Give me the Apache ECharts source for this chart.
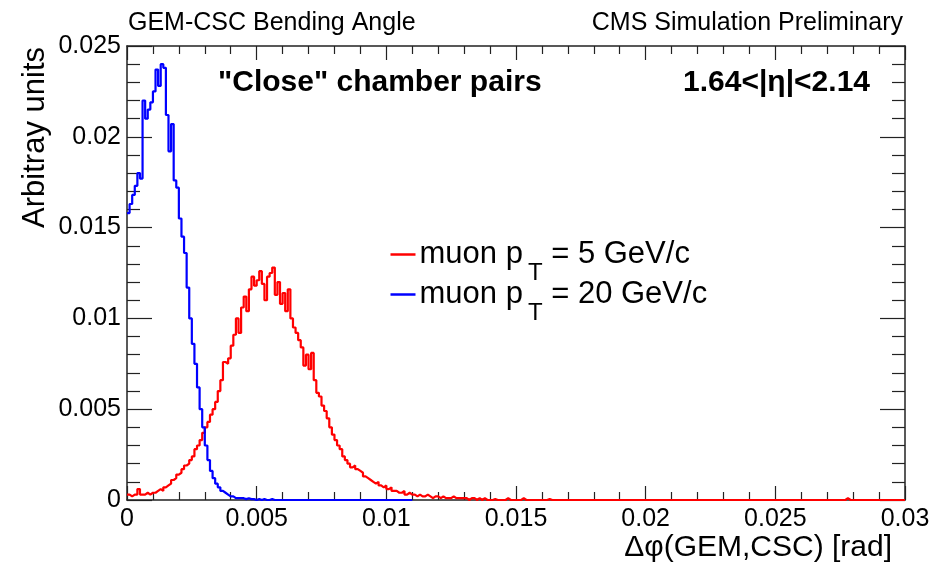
<!DOCTYPE html>
<html>
<head>
<meta charset="utf-8">
<script src="https://cdn.jsdelivr.net/npm/echarts@6/dist/echarts.min.js"></script>
<style>
  html, body { margin: 0; padding: 0; background: #fff; }
  #chart { width: 938px; height: 566px; }
</style>
</head>
<body>
<div id="chart"></div>
<script>
// Histogram binning: 0.0001 rad per bin, starting at 0
const binWidth = 0.0001;

// Axis ticks
const xTicks = [0, 0.005, 0.01, 0.015, 0.02, 0.025, 0.03];
const yTicks = [0, 0.005, 0.01, 0.015, 0.02, 0.025];

// Normalised bending-angle distribution, muon pT = 5 GeV/c (300 bins, 0 - 0.03)
const pt5 = [
  0.0003, 0.0002, 0.0003, 0.0003, 0.0006, 0.0003, 0.0003, 0.0004, 0.0003, 0.0004,
  0.0004, 0.0005, 0.0006, 0.0005, 0.0007, 0.0008, 0.0009, 0.0011, 0.0012, 0.0014,
  0.0015, 0.0017, 0.0019, 0.0020, 0.0022, 0.0024, 0.0028, 0.0030, 0.0033, 0.0037,
  0.0040, 0.0043, 0.0047, 0.0050, 0.0054, 0.0060, 0.0066, 0.0076, 0.0075, 0.0078,
  0.0085, 0.0091, 0.0100, 0.0092, 0.0106, 0.0112, 0.0104, 0.0116, 0.0123, 0.0118,
  0.0121, 0.0126, 0.0119, 0.0110, 0.0123, 0.0125, 0.0128, 0.0113, 0.0120, 0.0108,
  0.0114, 0.0104, 0.0116, 0.0100, 0.0095, 0.0092, 0.0088, 0.0084, 0.0074, 0.0080,
  0.0072, 0.0081, 0.0066, 0.0059, 0.0057, 0.0052, 0.0049, 0.0045, 0.0040, 0.0036,
  0.0033, 0.0030, 0.0028, 0.0024, 0.0022, 0.0020, 0.0018, 0.0019, 0.0017, 0.0016,
  0.0015, 0.0013, 0.0012, 0.0011, 0.0010, 0.0009, 0.0010, 0.0008, 0.0007, 0.0008,
  0.0006, 0.0007, 0.0005, 0.0005, 0.0004, 0.0004, 0.0005, 0.0003, 0.0004, 0.0003,
  0.0003, 0.0002, 0.0003, 0.0002, 0.0002, 0.0003, 0.0002, 0.0001, 0.0002, 0.0002,
  0.0001, 0.0002, 0.0001, 0.0001, 0.0001, 0.0002, 0.0001, 0.0001, 0.0001, 0.0001,
  0.0001, 0, 0.0001, 0.0001, 0, 0.0001, 0, 0.0001, 0, 0,
  0, 0.00005, 0, 0, 0, 0, 0.0001, 0, 0, 0,
  0, 0, 0.0001, 0, 0, 0, 0, 0, 0, 0,
  0, 0, 0.00005, 0, 0, 0, 0, 0, 0, 0,
  0, 0, 0, 0, 0, 0, 0, 0, 0, 0,
  0, 0, 0, 0, 0, 0, 0, 0, 0, 0,
  0, 0, 0, 0, 0, 0, 0, 0, 0, 0,
  0, 0, 0, 0, 0, 0, 0, 0, 0, 0,
  0, 0, 0, 0, 0, 0, 0, 0, 0, 0,
  0, 0, 0, 0, 0, 0, 0, 0, 0, 0,
  0, 0, 0, 0, 0, 0, 0, 0, 0, 0,
  0, 0, 0, 0, 0, 0, 0, 0, 0, 0,
  0, 0, 0, 0, 0, 0, 0, 0, 0, 0,
  0, 0, 0, 0, 0, 0, 0, 0, 0, 0,
  0, 0, 0, 0, 0, 0, 0, 0.0001, 0, 0,
  0, 0, 0, 0, 0, 0, 0, 0, 0, 0,
  0, 0, 0, 0, 0, 0, 0, 0, 0, 0
];

// Normalised bending-angle distribution, muon pT = 20 GeV/c (110 bins, 0 - 0.011)
const pt20 = [
  0.0158, 0.0163, 0.0168, 0.0173, 0.0180, 0.0177, 0.0220, 0.0210, 0.0215, 0.0219,
  0.0225, 0.0237, 0.0228, 0.0240, 0.0238, 0.0212, 0.0192, 0.0207, 0.0176, 0.0172,
  0.0155, 0.0145, 0.0136, 0.0117, 0.0100, 0.0086, 0.0075, 0.0062, 0.0050, 0.0040,
  0.0030, 0.0022, 0.0016, 0.0012, 0.0009, 0.0007, 0.0005, 0.0004, 0.0003, 0.0002,
  0.0002, 0.0001, 0.0001, 0.0001, 0.0001, 0.00005, 0.0001, 0.00005, 0.00005, 0,
  0.00005, 0, 0.00005, 0, 0, 0.00005, 0, 0, 0, 0,
  0, 0, 0, 0, 0, 0, 0, 0, 0, 0,
  0, 0, 0, 0, 0, 0, 0, 0, 0, 0,
  0, 0, 0, 0, 0, 0, 0, 0, 0, 0,
  0, 0, 0, 0, 0, 0, 0, 0, 0, 0,
  0, 0, 0, 0, 0, 0, 0, 0, 0, 0
];

const FONT = '"Liberation Sans", Arial, Helvetica, sans-serif';

// Bin contents -> step outline: each bin drawn from its left edge to its right edge
function histOutline(values) {
  const pts = values.map((v, i) => [i * binWidth, v]);
  pts.push([values.length * binWidth, values[values.length - 1]]);
  return pts;
}

const frame = { show: true, onZero: false, lineStyle: { color: '#222', width: 1.5 } };
const tickLine = { color: '#222', width: 1.2 };

function xAxisDef(position, showLabels) {
  return {
    type: 'value', position: position,
    min: xTicks[0], max: xTicks[xTicks.length - 1], interval: xTicks[1] - xTicks[0],
    axisLine: frame,
    axisTick: { show: true, inside: true, length: 14, lineStyle: tickLine },
    minorTick: { show: true, splitNumber: 5, length: 8, lineStyle: tickLine },
    splitLine: { show: false },
    axisLabel: {
      show: showLabels, margin: 7, color: '#000', fontFamily: FONT, fontSize: 25,
      formatter: v => String(Number(v.toFixed(3)))
    }
  };
}

function yAxisDef(position, showLabels) {
  return {
    type: 'value', position: position,
    min: yTicks[0], max: yTicks[yTicks.length - 1], interval: yTicks[1] - yTicks[0],
    axisLine: frame,
    axisTick: { show: true, inside: true, length: 25, lineStyle: tickLine },
    minorTick: { show: true, splitNumber: 5, length: 13, lineStyle: tickLine },
    splitLine: { show: false },
    axisLabel: {
      show: showLabels, margin: 6, color: '#000', fontFamily: FONT, fontSize: 25,
      formatter: v => String(Number(v.toFixed(3)))
    }
  };
}

// Legend row: coloured line sample followed by "muon p_T = ..." with a lowered T
function legendEntry(y, color, rest) {
  return {
    type: 'group', left: 388, top: y - 31,
    children: [
      { type: 'line', shape: { x1: 0, y1: 31, x2: 25, y2: 31 }, style: { stroke: color, lineWidth: 2.5 } },
      {
        type: 'text', x: 29, y: 0,
        style: {
          text: '{a|muon p}{s|T}{a| ' + rest + '}',
          rich: {
            a: { fontFamily: FONT, fontSize: 31, lineHeight: 62, fill: '#000' },
            s: { fontFamily: FONT, fontSize: 24, lineHeight: 24, padding: [37, 0, 0, 5], fill: '#000' }
          },
          verticalAlign: 'top'
        }
      }
    ]
  };
}

const chart = echarts.init(document.getElementById('chart'), null, { renderer: 'canvas' });
chart.setOption({
  animation: false,
  backgroundColor: '#fff',
  grid: { left: 127, right: 33, top: 46, bottom: 66, containLabel: false },
  xAxis: [xAxisDef('bottom', true), xAxisDef('top', false)],
  yAxis: [yAxisDef('left', true), yAxisDef('right', false)],
  series: [
    {
      name: 'muon pT = 5 GeV/c', type: 'line', step: 'end', showSymbol: false,
      data: histOutline(pt5), lineStyle: { color: '#ff0000', width: 2.2 }, z: 2
    },
    {
      name: 'muon pT = 20 GeV/c', type: 'line', step: 'end', showSymbol: false,
      data: histOutline(pt20), lineStyle: { color: '#0000ff', width: 2.2 }, z: 3
    }
  ],
  graphic: [
    { type: 'text', left: 128, top: 11, style: { text: 'GEM-CSC Bending Angle', font: '25px ' + FONT, fill: '#000' } },
    { type: 'text', right: 35, top: 11, style: { text: 'CMS Simulation Preliminary', font: '25px ' + FONT, fill: '#000' } },
    { type: 'text', left: 218, top: 68, style: { text: '"Close" chamber pairs', font: 'bold 30px ' + FONT, fill: '#000' } },
    { type: 'text', right: 68, top: 68, style: { text: '1.64<|\u03b7|<2.14', font: 'bold 30px ' + FONT, fill: '#000' } },
    legendEntry(255, '#ff0000', '= 5 GeV/c'),
    legendEntry(295, '#0000ff', '= 20 GeV/c'),
    { type: 'text', right: 46, top: 533, style: { text: '\u0394\u03c6(GEM,CSC) [rad]', font: '30px ' + FONT, fill: '#000' } },
    {
      type: 'text', x: 35, y: 47, rotation: Math.PI / 2,
      style: { text: 'Arbitray units', font: '31px ' + FONT, fill: '#000', align: 'right', verticalAlign: 'middle' }
    }
  ]
});
</script>
</body>
</html>
